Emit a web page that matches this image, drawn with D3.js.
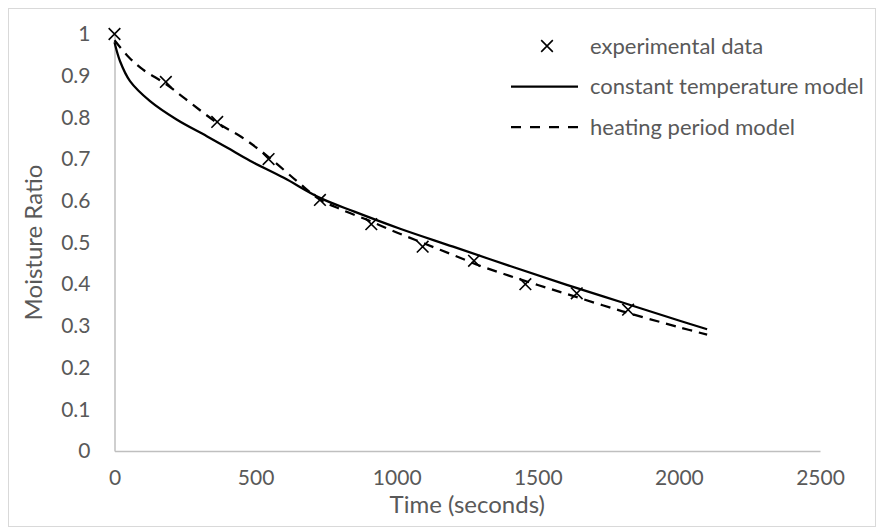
<!DOCTYPE html>
<html>
<head>
<meta charset="utf-8">
<script src="https://cdn.jsdelivr.net/npm/d3@7"></script>
<style>
  html, body { margin: 0; padding: 0; background: #fff; }
  svg { display: block; }
  text { font-family: Lato, "Open Sans", sans-serif; fill: #595959; }
</style>
</head>
<body>
<svg id="chart" width="877" height="528"></svg>
<script>
// Drying run: measured moisture ratio against time
const expTime = [0, 182, 364, 546, 728, 910, 1092, 1274, 1456, 1638, 1820];
const expMR   = [1.0, 0.885, 0.789, 0.70, 0.602, 0.544, 0.49, 0.456, 0.40, 0.378, 0.339];

// Constant temperature model curve
const constTime = [0, 20, 55, 126, 220, 327, 400, 480, 600, 728, 850, 1012, 1200, 1400, 1600, 1800, 2000, 2100];
const constMR   = [0.98, 0.934, 0.887, 0.839, 0.795, 0.755, 0.727, 0.696, 0.655, 0.607, 0.574, 0.533, 0.49, 0.444, 0.399, 0.356, 0.313, 0.292];

// Heating period model curve
const heatTime = [0, 50, 100, 182, 250, 364, 450, 546, 650, 728, 800, 900, 1000, 1100, 1200, 1300, 1400, 1500, 1600, 1800, 2000, 2100];
const heatMR   = [0.985, 0.945, 0.915, 0.88, 0.845, 0.787, 0.753, 0.705, 0.645, 0.603, 0.58, 0.553, 0.524, 0.497, 0.47, 0.443, 0.42, 0.398, 0.377, 0.335, 0.297, 0.279];

const xTicks = [0, 500, 1000, 1500, 2000, 2500];
const yTicks = [0, 0.1, 0.2, 0.3, 0.4, 0.5, 0.6, 0.7, 0.8, 0.9, 1];

const legendLabels = ["experimental data", "constant temperature model", "heating period model"];

const svg = d3.select("#chart");

// outer frame
svg.append("rect")
  .attr("x", 8.5).attr("y", 8.5)
  .attr("width", 867).attr("height", 518)
  .attr("fill", "none").attr("stroke", "#d9d9d9").attr("stroke-width", 1);

const x = d3.scaleLinear().domain([0, 2500]).range([114.5, 820]);
const y = d3.scaleLinear().domain([0, 1]).range([451, 34]);

const fmt = d => d3.format("~g")(d);

// x axis
const gx = svg.append("g").attr("transform", `translate(0,${y(0)})`)
  .call(d3.axisBottom(x).tickValues(xTicks).tickSize(0).tickPadding(19).tickFormat(fmt));
gx.select(".domain").attr("stroke", "#bfbfbf").attr("stroke-width", 1.5);
gx.selectAll("text").style("font-size", "21px").attr("fill", "#595959")
  .style("font-family", "Lato, 'Open Sans', sans-serif");

// y axis
const gy = svg.append("g").attr("transform", `translate(${x(0)},0)`)
  .call(d3.axisLeft(y).tickValues(yTicks).tickSize(0).tickPadding(24).tickFormat(fmt));
gy.select(".domain").attr("stroke", "#bfbfbf").attr("stroke-width", 1.5);
gy.selectAll("text").style("font-size", "21px").attr("fill", "#595959")
  .style("font-family", "Lato, 'Open Sans', sans-serif");

// axis titles
svg.append("text")
  .attr("x", (x.range()[0] + x.range()[1]) / 2).attr("y", 513)
  .attr("text-anchor", "middle").style("font-size", "24px")
  .text("Time (seconds)");
svg.append("text")
  .attr("transform", `translate(42,${(y(0) + y(1)) / 2}) rotate(-90)`)
  .attr("text-anchor", "middle").style("font-size", "24px")
  .text("Moisture Ratio");

const line = d3.line().curve(d3.curveCatmullRom.alpha(0.5))
  .x(d => x(d[0])).y(d => y(d[1]));

const constData = constTime.map((t, i) => [t, constMR[i]]);
const heatData = heatTime.map((t, i) => [t, heatMR[i]]);
const expData = expTime.map((t, i) => [t, expMR[i]]);

svg.append("path").datum(constData)
  .attr("d", line).attr("fill", "none")
  .attr("stroke", "#000").attr("stroke-width", 2.25);

svg.append("path").datum(heatData)
  .attr("d", line).attr("fill", "none")
  .attr("stroke", "#000").attr("stroke-width", 2.25)
  .attr("stroke-dasharray", "10,7");

const cross = d3.symbol().type(d3.symbolX).size(90);

svg.append("g").selectAll("path").data(expData).join("path")
  .attr("transform", d => `translate(${x(d[0])},${y(d[1])})`)
  .attr("d", cross).attr("fill", "none")
  .attr("stroke", "#000").attr("stroke-width", 1.6);

// legend
const lg = svg.append("g");
const rowY = [46, 86.5, 127];
lg.append("path").attr("transform", `translate(547,${rowY[0]})`)
  .attr("d", cross).attr("fill", "none").attr("stroke", "#000").attr("stroke-width", 1.6);
lg.append("line").attr("x1", 511).attr("x2", 578).attr("y1", rowY[1]).attr("y2", rowY[1])
  .attr("stroke", "#000").attr("stroke-width", 2.25);
lg.append("line").attr("x1", 511).attr("x2", 578).attr("y1", rowY[2]).attr("y2", rowY[2])
  .attr("stroke", "#000").attr("stroke-width", 2.25).attr("stroke-dasharray", "10,9");
lg.selectAll("text.leg").data(legendLabels).join("text")
  .attr("class", "leg")
  .attr("x", 590).attr("y", (d, i) => rowY[i])
  .attr("dy", "0.35em").style("font-size", "22px")
  .text(d => d);
</script>
</body>
</html>
